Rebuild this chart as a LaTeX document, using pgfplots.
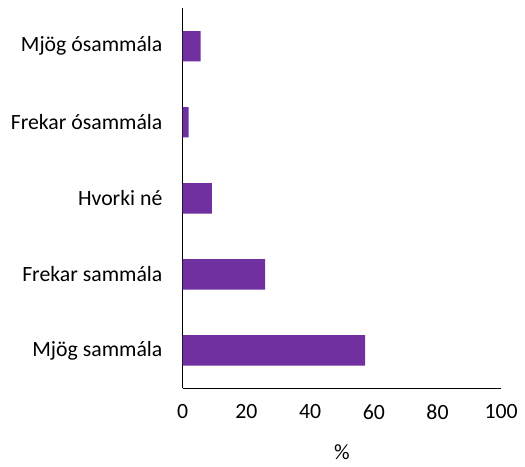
\documentclass[border=0pt]{standalone}
\usepackage{fontspec}
\setmainfont{Carlito}
\usepackage{pgfplots}
\pgfplotsset{compat=1.18}
\definecolor{barpurple}{HTML}{7030A0}
\begin{document}
\fontsize{22}{26}\selectfont
\begin{tikzpicture}
\begin{axis}[
  scale only axis,
  width=322pt, height=384.4pt,
  xbar, bar width=30.7pt,
  xmin=0, xmax=100, ymin=-0.5, ymax=4.5,
  xtick={0,20,40,60,80,100},
  ytick={0,1,2,3,4},
  yticklabels={Mjög sammála,Frekar sammála,Hvorki né,Frekar ósammála,Mjög ósammála},
  axis x line*=bottom, axis y line*=left,
  axis line style={black, line width=1pt, -},
  major tick length=0pt,
  /pgf/number format/assume math mode=true,
  ticklabel style={font=\fontsize{22}{26}\selectfont},
  xticklabel style={yshift=-9pt},
  yticklabel style={xshift=-13pt},
  xlabel={\%},
  xlabel style={font=\fontsize{22}{26}\selectfont, yshift=-10pt},
  clip=false,
]
\addplot[draw=none, fill=barpurple] coordinates {(57.3,0) (25.9,1) (9.2,2) (1.9,3) (5.6,4)};
\path (rel axis cs:-0.5736,-0.1959) rectangle (rel axis cs:1.0568,1.0216);
\end{axis}
\end{tikzpicture}
\end{document}
